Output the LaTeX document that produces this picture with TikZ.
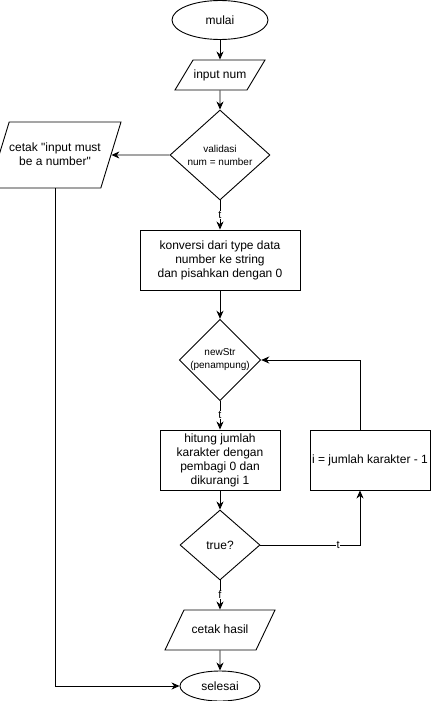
\documentclass[tikz,border=0pt]{standalone}
\usepackage{fontspec}
\newfontfamily\fc{Liberation Sans}
\usetikzlibrary{shapes.geometric,arrows.meta}
\begin{document}
\begin{tikzpicture}[x=1pt, y=-1pt, line width=0.9pt,
		every node/.style={font=\fc\fontsize{12}{14}\selectfont},
		terminal/.style={draw, ellipse, inner sep=0pt},
		io/.style={draw, trapezium, trapezium stretches body, inner xsep=0pt, text height=8.5pt, text depth=2.5pt, align=center},
		proses/.style={draw, rectangle, inner sep=0pt, align=center},
		keputusan/.style={draw, diamond, inner sep=0pt, align=center},
		kecil/.style={font=\fc\fontsize{10}{13}\selectfont},
		panah/.style={-{Stealth[length=8pt, width=7pt, inset=2.5pt]}},
		ket/.style={fill=white, inner sep=0.5pt, font=\fc\fontsize{11}{12}\selectfont}]
				\useasboundingbox (0,0) rectangle (431,701);

				% Start
				\node[terminal, minimum width=96pt, minimum height=39pt] (mulai) at (220,20) {mulai};
				\node[io, inner ysep=9.5pt, trapezium left angle=59, trapezium right angle=121, minimum width=90pt] (input) at (220,75) {input num};
				\node[keputusan, kecil, minimum width=100pt, minimum height=90pt] (validasi) at (220,155) {validasi\\num = number};
				\node[io, text height=23pt, text depth=3pt, inner ysep=20pt, trapezium left angle=73, trapezium right angle=107, minimum width=110pt] (gagal) at (55,155) {cetak "input must\\be a number"};

				% Proses
				\node[proses, minimum width=160pt, minimum height=60pt] (konversi) at (220,260) {konversi dari type data\\number ke string\\dan pisahkan dengan 0};
				\node[keputusan, kecil, minimum width=80pt, minimum height=80pt] (newstr) at (220,360) {newStr\\(penampung)};
				\node[proses, minimum width=120pt, minimum height=60pt] (hitung) at (220,460) {hitung jumlah\\karakter dengan\\pembagi 0 dan\\dikurangi 1};
				\node[proses, minimum width=120pt, minimum height=60pt] (kurang) at (370,460) {i = jumlah karakter - 1};
				\node[keputusan, minimum width=80pt, minimum height=70pt] (cek) at (220,545) {true?};

				% End
				\node[io, inner ysep=14.5pt, trapezium left angle=64.6, trapezium right angle=115.4, minimum width=110pt] (hasil) at (220,630) {cetak hasil};
				\node[terminal, minimum width=80pt, minimum height=30pt] (selesai) at (220,686) {selesai};

				% Panah
				\draw[panah] (mulai) -- (input);
				\draw[panah] (input) -- (validasi);
				\draw[panah] (validasi) -- (gagal);
				\draw[panah] (validasi) -- node[ket] {t} (konversi);
				\draw[panah] (gagal.south) |- (selesai.west);
				\draw[panah] (konversi) -- (newstr);
				\draw[panah] (newstr) -- node[ket] {t} (hitung);
				\draw[panah] (hitung) -- (cek);
				\draw[panah] (cek.east) -| node[ket, pos=0.39] {t} ([xshift=-10pt]kurang.south);
				\draw[panah] ([xshift=-10pt]kurang.north) |- (newstr.east);
				\draw[panah] (cek) -- node[ket] {f} (hasil);
				\draw[panah] (hasil) -- (selesai);
\end{tikzpicture}
\end{document}
